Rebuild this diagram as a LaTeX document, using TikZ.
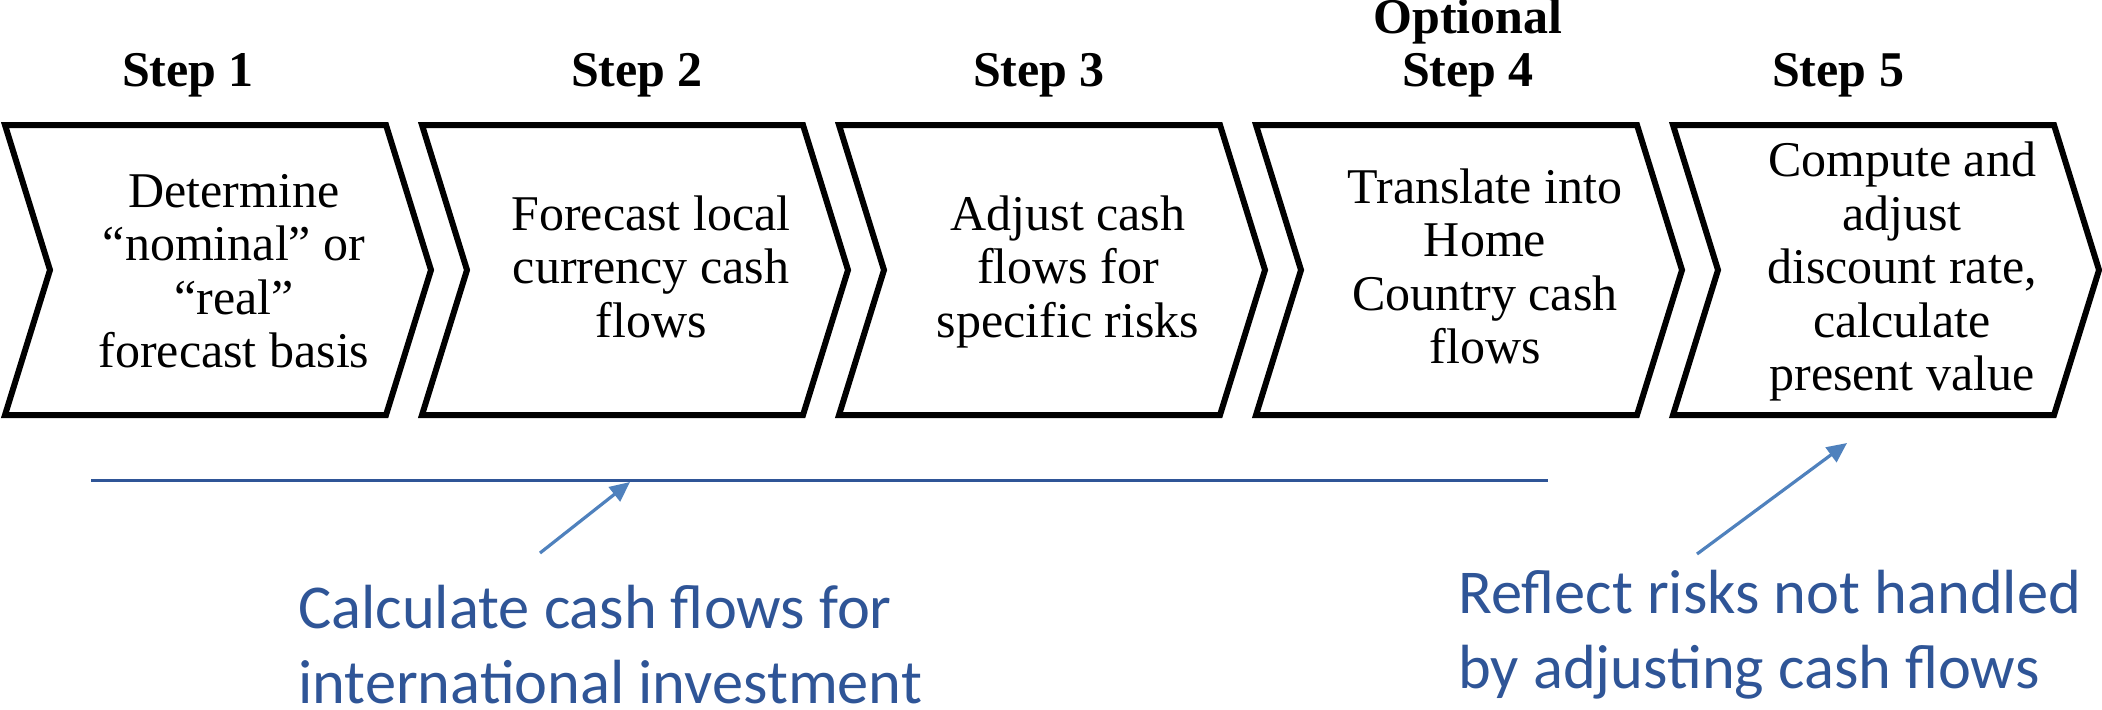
\documentclass[tikz,border=0pt]{standalone}
\usepackage{fontspec}
\setmainfont{Liberation Serif}
\newfontfamily\calib{Carlito}
\usetikzlibrary{arrows.meta}
\definecolor{dblue}{HTML}{2F5597}
\definecolor{lblue}{HTML}{4F81BD}
\begin{document}
\begin{tikzpicture}[x=0.5pt,y=-0.5pt,
  chev/.style={draw=black, line width=3pt, line join=miter, fill=white},
  bodytext/.style={align=center, inner sep=0pt, font=\fontsize{25}{26.75}\selectfont},
  headtext/.style={align=center, inner sep=0pt, anchor=south, font=\fontsize{25}{26.5}\selectfont\bfseries},
  bluetext/.style={align=left, inner sep=0pt, anchor=west, text=dblue, font=\calib\fontsize{31.2}{37.5}\selectfont},
  pointer/.style={draw=lblue, line width=1.6pt, -{Triangle[length=10pt,width=9pt]}},
  bracket/.style={draw=dblue, line width=1.5pt}
]
\useasboundingbox (0,0) rectangle (2102,709);
\foreach \i in {0,...,4} {
  \pgfmathsetmacro{\L}{5+417*\i}
  \draw[chev] (\L,125) -- ++(381,0) -- ++(45,145) -- ++(-45,145) -- ++(-381,0) -- ++(45,-145) -- cycle;
}
% headings
\node[headtext] (h1) at (188,98) {Step 1};
\node[headtext] (h2) at (637,98) {Step 2};
\node[headtext] (h3) at (1039,98) {Step 3};
\node[headtext] (h4) at (1468,98) {Optional\\Step 4};
\node[headtext] (h5) at (1838,98) {Step 5};
% body texts
\node[bodytext] (t1) at (234,277) {\strut Determine\\\strut “nominal” or\\\strut “real”\\\strut forecast basis};
\node[bodytext] (t2) at (651,273) {\strut Forecast local\\\strut currency cash\\\strut flows};
\node[bodytext] (t3) at (1068,273) {\strut Adjust cash\\\strut flows for\\\strut specific risks};
\node[bodytext] (t4) at (1485,273) {\strut Translate into\\\strut Home\\\strut Country cash\\\strut flows};
\node[bodytext] (t5) at (1902,273) {\strut Compute and\\\strut adjust\\\strut discount rate,\\\strut calculate\\\strut present value};
% bracket line
\coordinate (l1) at (91,480);
\coordinate (l2) at (1548,480);
\draw[bracket] (l1) -- (l2);
% pointers
\coordinate (a1s) at (540,553);
\coordinate (a1e) at (630,482);
\coordinate (a2s) at (1697,554);
\coordinate (a2e) at (1847,443);
\draw[pointer] (a1s) -- (a1e);
\draw[pointer] (a2s) -- (a2e);
% blue texts
\node[bluetext] (b1) at (298,651) {\strut Calculate cash flows for\\\strut international investment};
\node[bluetext] (b2) at (1458,636) {\strut Reflect risks not handled\\\strut by adjusting cash flows};
\end{tikzpicture}
\end{document}
